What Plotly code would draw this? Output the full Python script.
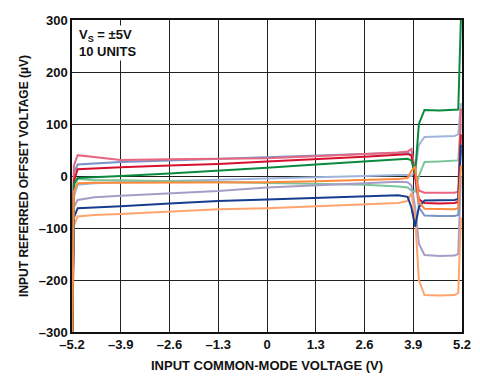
import plotly.graph_objects as go

# Shared common-mode voltage sample points (V)
vcm = [-5.19, -5.15, -5.05, -4.6, -3.9, -2.6, -1.3, 0.0, 1.3, 2.6, 3.5, 3.75, 3.85, 3.95, 4.05, 4.2, 4.6, 5.0, 5.1, 5.17]

# Offset voltage per unit (uV)
unit_pink      = [-300, 20, 40, 36, 31, 32, 33, 34, 38, 42, 45, 47, 52, 10, -28, -32, -32, -32, -30, 130]
unit_blue      = [-300, 5, 22, 24, 27, 30, 33, 36, 39, 42, 44, 45, 40, 0, -60, -76, -77, -77, -75, 50]
unit_red       = [-300, -10, 13, 15, 17, 20, 23, 28, 32, 37, 41, 42, 40, 0, -45, -52, -53, -52, -50, 80]
unit_green     = [-300, -15, -4, -2, 0, 5, 10, 16, 22, 28, 32, 33, 30, 5, 100, 127, 126, 127, 128, 300]
unit_ltgreen   = [-300, -20, -6, -8, -8, -10, -12, -14, -15, -17, -20, -22, -28, -30, 0, 27, 28, 29, 30, 100]
unit_ltblue    = [-300, -40, -17, -14, -12, -9, -7, -5, -3, 0, 2, 2, 0, 10, 60, 75, 76, 77, 80, 140]
unit_purple    = [-300, -60, -46, -41, -38, -33, -29, -22, -18, -14, -11, -12, -18, -60, -130, -152, -154, -153, -150, 0]
unit_navy      = [-300, -80, -62, -60, -58, -53, -48, -45, -42, -39, -37, -40, -60, -97, -60, -47, -47, -46, -44, 60]
unit_ltorange  = [-300, -95, -78, -75, -73, -68, -64, -62, -58, -55, -52, -48, -33, -80, -200, -229, -230, -229, -225, -80]
unit_orange    = [-300, -30, -14, -13, -13, -13, -13, -12, -10, -8, -6, -4, 10, 18, -50, -63, -64, -64, -62, 20]

series = [
    (unit_ltblue, "#9fb5dc"),
    (unit_ltgreen, "#7cc49a"),
    (unit_purple, "#a79cc8"),
    (unit_ltorange, "#ffa46e"),
    (unit_blue, "#7a93c6"),
    (unit_pink, "#e8667f"),
    (unit_red, "#d6102f"),
    (unit_navy, "#173d8f"),
    (unit_green, "#0b8a3f"),
    (unit_orange, "#ff8a3c"),
]

xticks = [-5.2, -3.9, -2.6, -1.3, 0, 1.3, 2.6, 3.9, 5.2]
xticklabels = ["–5.2", "–3.9", "–2.6", "–1.3", "0", "1.3", "2.6", "3.9", "5.2"]
yticks = [-300, -200, -100, 0, 100, 200, 300]
yticklabels = ["–300", "–200", "–100", "0", "100", "200", "300"]

fig = go.Figure()
for ys, col in series:
    fig.add_trace(go.Scatter(x=vcm, y=ys, mode="lines",
                             line=dict(color=col, width=2), showlegend=False,
                             hoverinfo="skip"))

fam = "Arial, Liberation Sans, sans-serif"
font = dict(family=fam, size=12, color="#111")
fig.update_layout(
    width=472, height=373,
    margin=dict(l=64, r=18, t=12, b=49),
    paper_bgcolor="white", plot_bgcolor="white",
    font=font,
    showlegend=False,
)
fig.update_xaxes(range=[-5.2, 5.2], tickvals=xticks, ticktext=[f"<b>{t}</b>" for t in xticklabels],
                 showgrid=True, gridcolor="#222", gridwidth=1, zeroline=False,
                 showline=True, linecolor="#111", linewidth=1.5, mirror=True,
                 ticks="", ticklen=0, automargin=False,
                 tickfont=dict(family=fam, size=13, color="#111"),
                 title=dict(text="<b>INPUT COMMON-MODE VOLTAGE (V)</b>", standoff=10,
                            font=dict(family=fam, size=13, color="#111")))
fig.update_yaxes(range=[-300, 300], tickvals=yticks, ticktext=[f"<b>{t}</b>" for t in yticklabels],
                 showgrid=True, gridcolor="#222", gridwidth=1, zeroline=False,
                 showline=True, linecolor="#111", linewidth=1.5, mirror=True,
                 ticks="", ticklen=0, automargin=False,
                 tickfont=dict(family=fam, size=13, color="#111"),
                 title=dict(text="<b>INPUT REFERRED OFFSET VOLTAGE (µV)</b>", standoff=8,
                            font=dict(family=fam, size=12, color="#111")))

fig.add_annotation(xref="paper", yref="paper", x=0.012, y=0.985, xanchor="left", yanchor="top",
                   text="<b>V<sub>S</sub> = ±5V<br>10 UNITS</b>", showarrow=False, align="left",
                   font=dict(family=fam, size=13, color="#111"),
                   bgcolor="white")

fig.write_html("out.html")
